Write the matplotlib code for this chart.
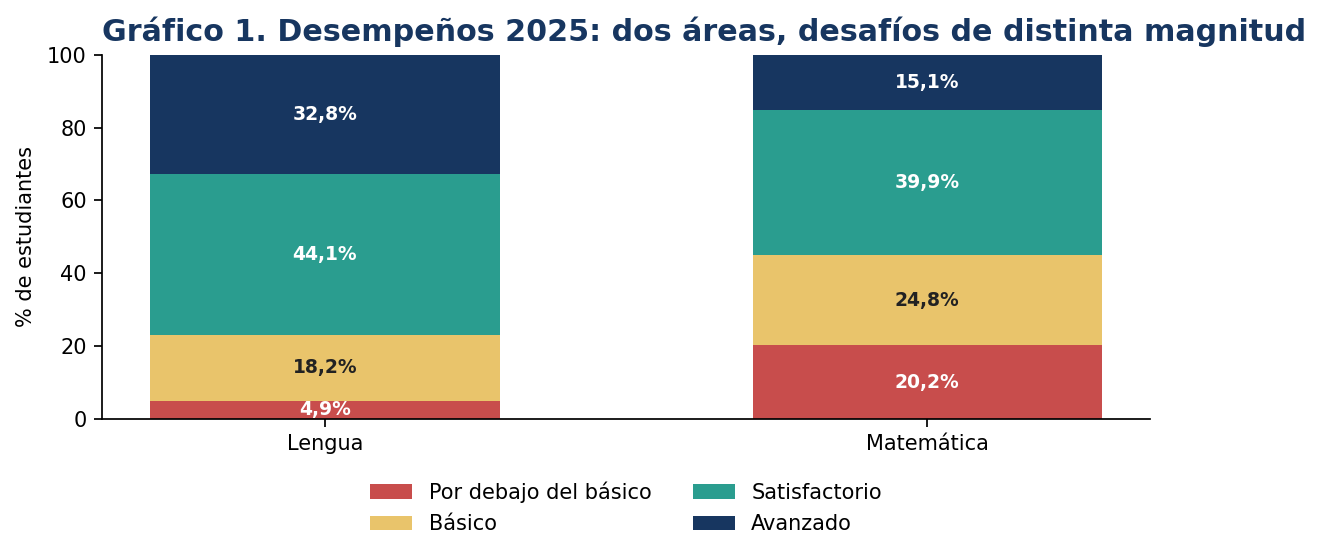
import numpy as np
import matplotlib.pyplot as plt

areas = ["Lengua", "Matemática"]
niveles = ["Por debajo del básico", "Básico", "Satisfactorio", "Avanzado"]
por_debajo = np.array([4.9, 20.2])
basico = np.array([18.2, 24.8])
satisfactorio = np.array([44.1, 39.9])
avanzado = np.array([32.8, 15.1])

colores = ["#c84d4c", "#e9c46b", "#2a9d8f", "#173660"]
color_texto = ["white", "#222222", "white", "white"]

fig = plt.figure(figsize=(13.2, 5.6), dpi=100)
ax = fig.add_axes([0.0773, 0.252, 0.794, 0.650])

x = np.arange(len(areas))
base = np.zeros(len(areas))
for nivel, vals, col, tcol in zip(niveles, [por_debajo, basico, satisfactorio, avanzado], colores, color_texto):
    ax.bar(x, vals, width=0.58, bottom=base, color=col, label=nivel)
    for xi, b, v in zip(x, base, vals):
        ax.text(xi, b + v / 2, f"{v:.1f}%".replace(".", ","), ha="center", va="center",
                color=tcol, fontsize=13.5, fontweight="bold")
    base = base + vals

ax.set_xlim(-0.37, 1.37)
ax.set_ylim(0, 100)
ax.set_xticks(x)
ax.set_xticklabels(areas)
ax.tick_params(labelsize=15, length=6, width=1.25, pad=5)
ax.set_ylabel("% de estudiantes", fontsize=15, labelpad=8)
ax.spines["top"].set_visible(False)
ax.spines["right"].set_visible(False)
ax.spines["left"].set_linewidth(1.25)
ax.spines["bottom"].set_linewidth(1.25)

ax.set_title("Gráfico 1. Desempeños 2025: dos áreas, desafíos de distinta magnitud",
             loc="left", fontsize=21.7, fontweight="bold", color="#173660", pad=10)

ax.legend(loc="upper center", bbox_to_anchor=(0.5, -0.12), ncol=2, frameon=False,
          fontsize=15, handlelength=2.0, columnspacing=2.0, labelspacing=0.55)

fig.savefig("out.png", dpi=100)
